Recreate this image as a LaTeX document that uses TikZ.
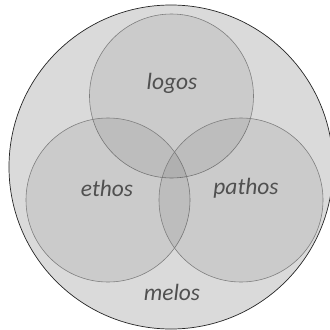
\documentclass[tikz,border=0pt]{standalone}
\usepackage{fontspec}
\setmainfont{Carlito}
\usepackage{xcolor}
\usetikzlibrary{positioning}

\definecolor{melosgray}{HTML}{DADADA}
\definecolor{rimgray}{HTML}{7E7E7E}
\definecolor{wordgray}{HTML}{505050}

\begin{document}
\begin{tikzpicture}[x=0.03cm,y=-0.03cm,node distance=3.99cm,
    outer node/.style={circle,draw=black!85,line width=0.6pt,fill=melosgray,minimum size=9.72cm,inner sep=0pt},
    main node/.style={circle,draw=rimgray,line width=0.5pt,fill=black,fill opacity=0.065,draw opacity=1,minimum size=4.92cm,inner sep=0pt},
    word/.style={text=wordgray,font=\fontsize{20}{24}\selectfont\itshape}]

            \useasboundingbox (0,0) rectangle (330,330);

            \node[outer node]  (melos) at (171,167) {};
            \node[main node]  (logos) at (171.5,96) {};
            \node[main node]  (ethos) at (108,200) {};
            \node[main node]  (pathos) [right of = ethos] {};

            \node[word]  (l) at (172,83) {logos};
            \node[word]  (e) at (107,188) {ethos};
            \node[word]  (p) at (246,188) {pathos};
            \node[word]  (m) at (172,292) {melos};
        \end{tikzpicture}
\end{document}
